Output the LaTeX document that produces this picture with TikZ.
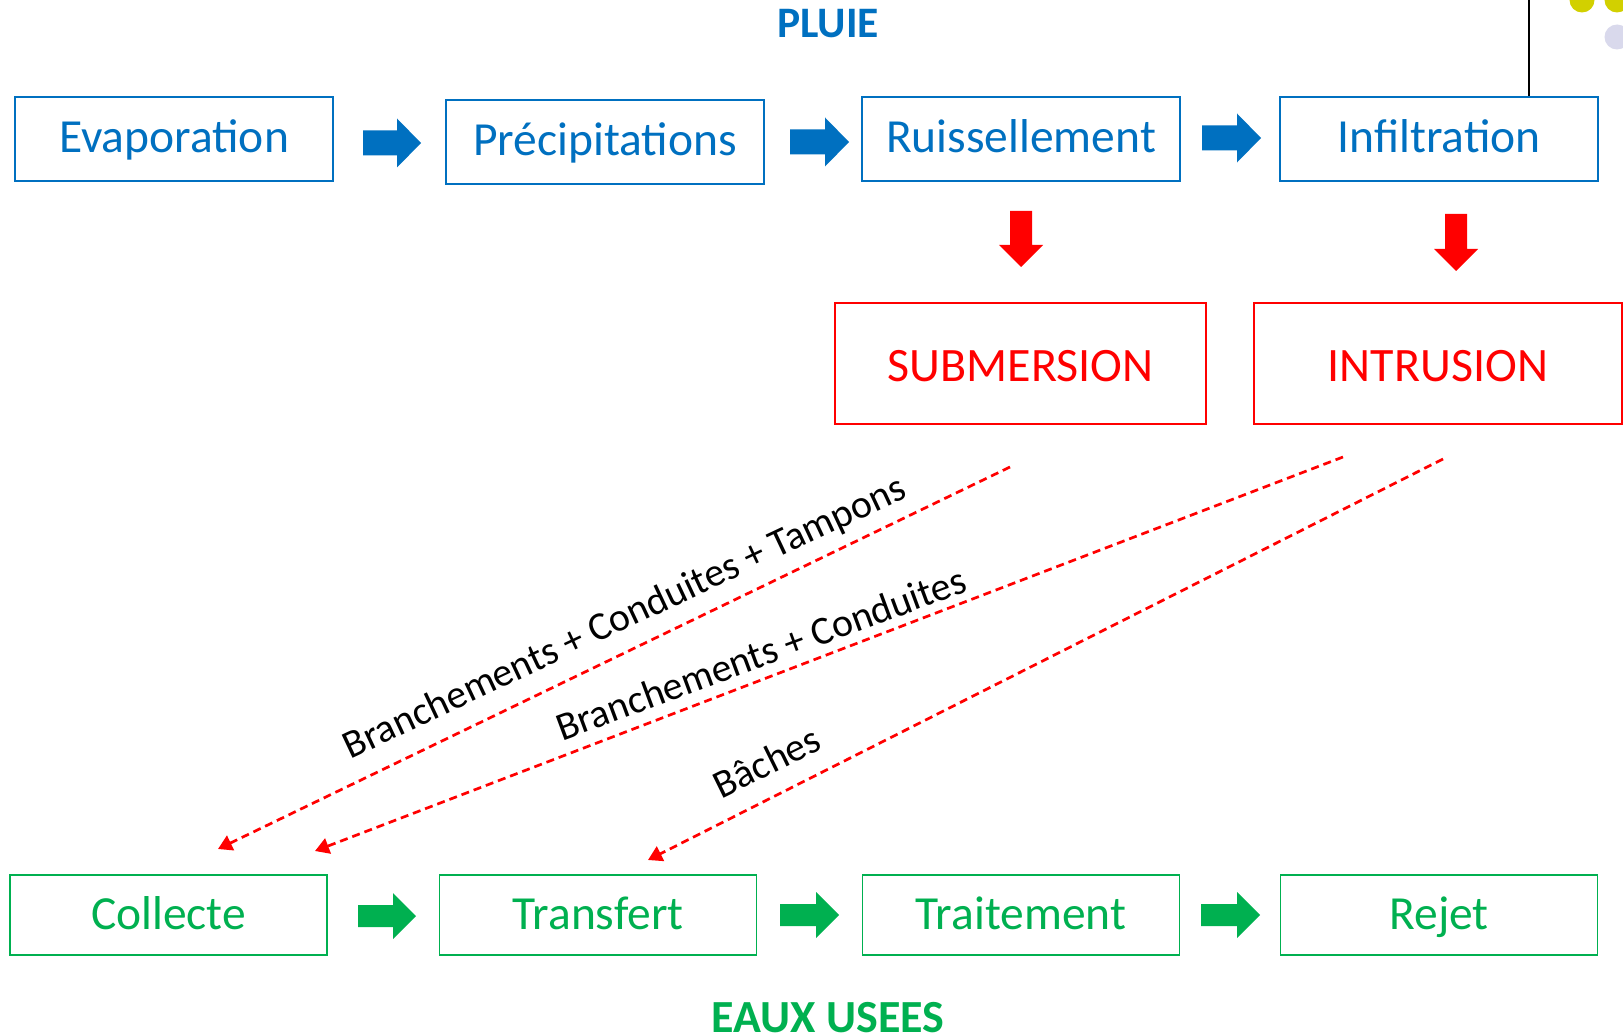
\documentclass[tikz,border=0pt]{standalone}
\usepackage{fontspec}
\setmainfont{Carlito}
\usetikzlibrary{arrows.meta,calc}
\definecolor{cblue}{HTML}{0070C0}
\definecolor{cred}{HTML}{FF0000}
\definecolor{cgreen}{HTML}{00B050}
\definecolor{cyel}{HTML}{D2D000}
\definecolor{clav}{HTML}{D9D9EC}
% horizontal block arrow: x0, x1(tip), yc, head length, body half, head half, colour
\newcommand\harrow[7]{\fill[#7] (#1,#3-#5) -- (#2-#4,#3-#5) -- (#2-#4,#3-#6) -- (#2,#3) -- (#2-#4,#3+#6) -- (#2-#4,#3+#5) -- (#1,#3+#5) -- cycle;}
% vertical block arrow: xc, y0, y1(tip), head length, body half, head half, colour
\newcommand\varrow[7]{\fill[#7] (#1-#5,#2) -- (#1+#5,#2) -- (#1+#5,#3-#4) -- (#1+#6,#3-#4) -- (#1,#3) -- (#1-#6,#3-#4) -- (#1-#5,#3-#4) -- cycle;}
\tikzset{
  boxbase/.style={line width=1.6pt, inner sep=0pt, font=\fontsize{47.5}{56}\selectfont, text height=30pt, text depth=2pt},
  bluebox/.style={boxbase, draw=cblue, text=cblue, minimum width=318pt, minimum height=84pt},
  greenbox/.style={boxbase, draw=cgreen, text=cgreen, minimum width=317pt, minimum height=80pt},
  redbox/.style={boxbase, draw=cred, text=cred, line width=1.8pt, minimum height=121pt, font=\fontsize{48}{56}\selectfont, text height=35pt, text depth=0pt},
  flowlink/.style={draw=cred, line width=2.7pt, dash pattern=on 8pt off 5pt, -{Triangle[length=14pt,width=16pt]}},
  linklabel/.style={anchor=base, font=\fontsize{39.8}{47}\selectfont, text=black, inner sep=0pt},
  titletext/.style={anchor=base, font=\fontsize{43.5}{50}\selectfont\bfseries, inner sep=0pt}
}
\begin{document}
\begin{tikzpicture}[x=1pt, y=-1pt]
\useasboundingbox (0,0) rectangle (1623,1035);
\fill[white] (0,0) rectangle (1623,1035);

% decorative dots
\fill[cyel] (1582,0) circle (12.5);
\fill[cyel] (1617,0) circle (12.5);
\fill[clav] (1617,37) circle (12.5);

% titles
\node[titletext, text=cblue] (pluie) at (828,38) {PLUIE};
\node[titletext, text=cgreen, font=\fontsize{46}{52}\selectfont\bfseries] (eaux) at (828,1032) {EAUX USEES};

% top row
\node[bluebox] (evap) at (174,139) {Evaporation};
\node[bluebox] (prec) at (605,142) {Précipitations};
\node[bluebox] (ruis) at (1021,139) {Ruissellement};
\node[bluebox] (infil) at (1439,139) {Infiltration};

% line to Infiltration
\coordinate (topline) at (1529,0);
\draw[black, line width=2pt] (topline) -- (topline |- infil.north);

% blue block arrows
\harrow{363}{421}{143}{24}{12.5}{24.5}{cblue}
\harrow{790}{849}{142}{24}{12.5}{24.5}{cblue}
\harrow{1202}{1261}{138}{24}{12.5}{24.5}{cblue}

% red down arrows
\varrow{1021}{211}{267}{22}{11}{22}{cred}
\varrow{1456}{214}{271}{22}{11}{22}{cred}

% red boxes
\node[redbox, minimum width=371pt] (subm) at (1020.5,363.5) {SUBMERSION};
\node[redbox, minimum width=368pt] (intr) at (1438,363.5) {INTRUSION};

% bottom row
\node[greenbox] (coll) at (168.5,915) {Collecte};
\node[greenbox] (transf) at (598,915) {Transfert};
\node[greenbox] (trait) at (1021,915) {Traitement};
\node[greenbox] (rejet) at (1439,915) {Rejet};

% green block arrows
\harrow{358}{416}{916}{23}{11}{23}{cgreen}
\harrow{780}{839}{915}{23}{11}{23}{cgreen}
\harrow{1201}{1260}{915}{23}{11}{23}{cgreen}

% dashed links
\coordinate (s1) at (1010,467);
\coordinate (s2) at (1343,457);
\coordinate (s3) at (1443,459);
\coordinate (e1) at (218,849);
\coordinate (e2) at (315,851);
\coordinate (e3) at (648,860);
\draw[flowlink] (s1) -- (e1);
\draw[flowlink] (s2) -- (e2);
\draw[flowlink] (s3) -- (e3);

% labels
\node[linklabel, rotate=25.2] (lab1) at (629.5,628) {Branchements + Conduites + Tampons};
\node[linklabel, rotate=20.3] (lab2) at (765.5,666) {Branchements + Conduites};
\node[linklabel, rotate=26.2] (lab3) at (772.5,774) {Bâches};
\end{tikzpicture}
\end{document}
